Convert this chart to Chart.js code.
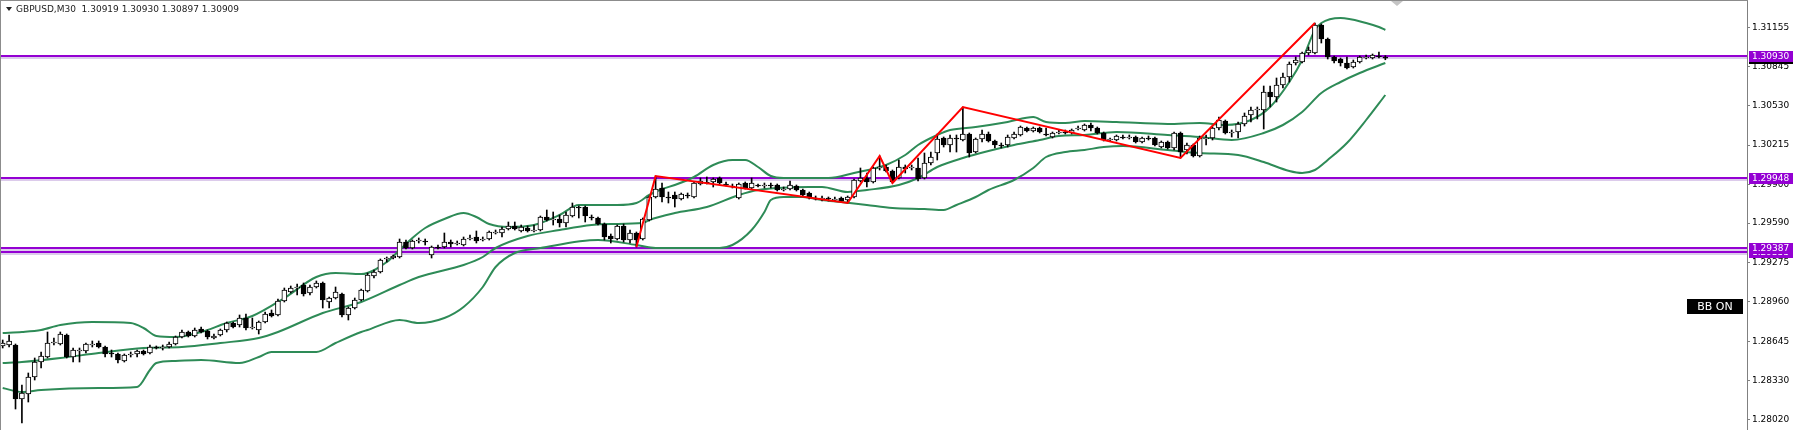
<!DOCTYPE html>
<html>
<head>
<meta charset="utf-8">
<title>GBPUSD M30</title>
<script src="https://cdn.jsdelivr.net/npm/chart.js@4.4.1/dist/chart.umd.min.js"></script>
<style>
  html, body { margin: 0; padding: 0; background: #fff; overflow: hidden; }
  #c { display: block; }
</style>
</head>
<body>
<canvas id="c" width="1797" height="430"></canvas>
<script>
// ---- data (GBPUSD, M30, 217 bars) ----
const symbol = "GBPUSD,M30";

const opens = [
  1.28607,1.28615,1.28615,1.28183,1.28223,1.28359,1.28479,1.28519,1.28631,1.28623,
  1.28695,1.28519,1.28567,1.28567,1.28615,1.28631,1.28599,1.28551,1.28543,1.28487,
  1.28535,1.28543,1.28567,1.28551,1.28599,1.28591,1.28599,1.28623,1.28679,1.28719,
  1.28687,1.28743,1.28727,1.28671,1.28695,1.28735,1.28791,1.28775,1.28831,1.28751,
  1.28735,1.28799,1.28871,1.28855,1.28967,1.29039,1.29071,1.29095,1.29031,1.29079,
  1.29111,1.28959,1.28991,1.29023,1.28855,1.28911,1.28975,1.29047,1.29167,1.29199,
  1.29303,1.29311,1.29319,1.29439,1.29391,1.29447,1.29447,1.29335,1.29399,1.29399,
  1.29439,1.29423,1.29415,1.29463,1.29479,1.29455,1.29463,1.29511,1.29511,1.29543,
  1.29567,1.29527,1.29551,1.29527,1.29535,1.29639,1.29615,1.29623,1.29591,1.29647,
  1.29719,1.29719,1.29639,1.29631,1.29583,1.29487,1.29463,1.29567,1.29455,1.29511,
  1.29463,1.29615,1.29799,1.29871,1.29799,1.29815,1.29783,1.29815,1.29799,1.29903,
  1.29919,1.29919,1.29951,1.29903,1.29887,1.29791,1.29911,1.29871,1.29895,1.29887,
  1.29895,1.29895,1.29855,1.29863,1.29887,1.29855,1.29831,1.29791,1.29783,1.29791,
  1.29775,1.29791,1.29775,1.29799,1.29927,1.29951,1.29919,1.30031,1.30039,1.30007,
  1.29951,1.30039,1.30031,1.30031,1.29951,1.30071,1.30151,1.30271,1.30215,1.30271,
  1.30255,1.30303,1.30159,1.30263,1.30303,1.30247,1.30215,1.30215,1.30271,1.30295,
  1.30351,1.30327,1.30351,1.30303,1.30279,1.30311,1.30319,1.30311,1.30343,1.30335,
  1.30375,1.30351,1.30311,1.30255,1.30255,1.30279,1.30271,1.30279,1.30239,1.30271,
  1.30271,1.30199,1.30239,1.30191,1.30311,1.30175,1.30215,1.30127,1.30263,1.30271,
  1.30351,1.30407,1.30311,1.30319,1.30383,1.30455,1.30495,1.30495,1.30639,1.30599,
  1.30695,1.30759,1.30871,1.30879,1.30951,1.30951,1.31175,1.31063,1.30919,1.30903,
  1.30871,1.30839,1.30879,1.30911,1.30911,1.30927,1.30919
];
const highs = [
  1.28655,1.28695,1.28623,1.28295,1.28391,1.28511,1.28559,1.28719,1.28671,1.28719,
  1.28703,1.28591,1.28591,1.28631,1.28647,1.28647,1.28607,1.28575,1.28551,1.28543,
  1.28559,1.28575,1.28575,1.28615,1.28607,1.28615,1.28639,1.28687,1.28735,1.28727,
  1.28751,1.28759,1.28735,1.28703,1.28743,1.28799,1.28799,1.28855,1.28863,1.28831,
  1.28807,1.28879,1.28895,1.28983,1.29071,1.29087,1.29103,1.29111,1.29095,1.29127,
  1.29119,1.28999,1.29079,1.29031,1.28919,1.28991,1.29063,1.29191,1.29215,1.29303,
  1.29319,1.29335,1.29463,1.29455,1.29455,1.29471,1.29463,1.29407,1.29415,1.29511,
  1.29455,1.29447,1.29479,1.29495,1.29527,1.29479,1.29527,1.29535,1.29559,1.29599,
  1.29599,1.29575,1.29567,1.29575,1.29647,1.29695,1.29679,1.29655,1.29679,1.29751,
  1.29727,1.29727,1.29655,1.29639,1.29591,1.29503,1.29575,1.29583,1.29535,1.29519,
  1.29631,1.29807,1.29967,1.29911,1.29839,1.29839,1.29831,1.29831,1.29919,1.29951,
  1.29959,1.29951,1.29959,1.29919,1.29903,1.29911,1.29919,1.29951,1.29903,1.29911,
  1.29911,1.29903,1.29879,1.29927,1.29895,1.29863,1.29839,1.29807,1.29807,1.29799,
  1.29799,1.29799,1.29807,1.29943,1.30031,1.29991,1.30039,1.30127,1.30055,1.30015,
  1.30095,1.30055,1.30055,1.30111,1.30151,1.30159,1.30303,1.30279,1.30295,1.30295,
  1.30519,1.30311,1.30271,1.30335,1.30319,1.30255,1.30231,1.30295,1.30319,1.30367,
  1.30359,1.30359,1.30359,1.30351,1.30319,1.30335,1.30335,1.30343,1.30367,1.30383,
  1.30391,1.30359,1.30319,1.30271,1.30295,1.30295,1.30295,1.30287,1.30279,1.30287,
  1.30279,1.30247,1.30247,1.30319,1.30319,1.30231,1.30223,1.30287,1.30295,1.30359,
  1.30439,1.30415,1.30335,1.30399,1.30471,1.30519,1.30519,1.30687,1.30687,1.30751,
  1.30791,1.30879,1.30919,1.30959,1.30999,1.31191,1.31183,1.31071,1.30927,1.30911,
  1.30919,1.30895,1.30927,1.30935,1.30943,1.30959,1.30930
];
const lows = [
  1.28591,1.28599,1.28103,1.27991,1.28159,1.28335,1.28431,1.28511,1.28615,1.28615,
  1.28511,1.28479,1.28479,1.28551,1.28599,1.28591,1.28519,1.28519,1.28471,1.28479,
  1.28519,1.28519,1.28535,1.28543,1.28583,1.28575,1.28591,1.28615,1.28671,1.28679,
  1.28679,1.28711,1.28663,1.28663,1.28687,1.28719,1.28751,1.28759,1.28735,1.28743,
  1.28703,1.28791,1.28839,1.28847,1.28959,1.29031,1.29015,1.29007,1.29015,1.29071,
  1.28911,1.28911,1.28983,1.28839,1.28815,1.28903,1.28967,1.29039,1.29151,1.29191,
  1.29279,1.29303,1.29311,1.29383,1.29383,1.29431,1.29415,1.29311,1.29383,1.29391,
  1.29399,1.29415,1.29407,1.29455,1.29431,1.29447,1.29455,1.29503,1.29479,1.29535,
  1.29535,1.29519,1.29519,1.29519,1.29527,1.29607,1.29575,1.29559,1.29559,1.29639,
  1.29631,1.29599,1.29615,1.29575,1.29455,1.29431,1.29455,1.29439,1.29431,1.29399,
  1.29455,1.29607,1.29791,1.29759,1.29751,1.29719,1.29775,1.29791,1.29791,1.29895,
  1.29903,1.29879,1.29903,1.29887,1.29871,1.29783,1.29863,1.29863,1.29879,1.29871,
  1.29871,1.29847,1.29847,1.29855,1.29847,1.29807,1.29783,1.29775,1.29767,1.29767,
  1.29767,1.29759,1.29751,1.29791,1.29919,1.29879,1.29911,1.30015,1.29999,1.29911,
  1.29943,1.29991,1.30015,1.29927,1.29943,1.30055,1.30095,1.30199,1.30159,1.30159,
  1.30247,1.30119,1.30151,1.30239,1.30239,1.30191,1.30191,1.30199,1.30263,1.30287,
  1.30319,1.30319,1.30311,1.30287,1.30271,1.30303,1.30303,1.30303,1.30335,1.30327,
  1.30327,1.30303,1.30247,1.30247,1.30247,1.30263,1.30263,1.30231,1.30231,1.30255,
  1.30207,1.30191,1.30183,1.30175,1.30111,1.30143,1.30119,1.30119,1.30215,1.30255,
  1.30335,1.30303,1.30279,1.30271,1.30367,1.30399,1.30423,1.30343,1.30519,1.30559,
  1.30671,1.30719,1.30855,1.30871,1.30935,1.30943,1.31031,1.30903,1.30871,1.30847,
  1.30823,1.30831,1.30871,1.30903,1.30903,1.30911,1.30897
];
const closes = [
  1.28631,1.28647,1.28183,1.28231,1.28359,1.28479,1.28527,1.28631,1.28639,1.28703,
  1.28519,1.28575,1.28575,1.28623,1.28623,1.28599,1.28543,1.28543,1.28495,1.28535,
  1.28543,1.28567,1.28543,1.28599,1.28591,1.28599,1.28623,1.28679,1.28719,1.28687,
  1.28735,1.28719,1.28679,1.28687,1.28735,1.28791,1.28759,1.28831,1.28751,1.28759,
  1.28799,1.28863,1.28847,1.28967,1.29055,1.29071,1.29079,1.29023,1.29079,1.29111,
  1.28975,1.28991,1.29039,1.28855,1.28911,1.28975,1.29055,1.29175,1.29199,1.29295,
  1.29311,1.29327,1.29439,1.29391,1.29447,1.29455,1.29439,1.29399,1.29391,1.29439,
  1.29423,1.29431,1.29463,1.29471,1.29447,1.29463,1.29519,1.29519,1.29543,1.29567,
  1.29543,1.29559,1.29527,1.29535,1.29639,1.29615,1.29623,1.29591,1.29655,1.29719,
  1.29711,1.29647,1.29631,1.29583,1.29479,1.29463,1.29567,1.29455,1.29511,1.29455,
  1.29623,1.29799,1.29863,1.29799,1.29791,1.29783,1.29823,1.29807,1.29911,1.29927,
  1.29911,1.29943,1.29911,1.29895,1.29879,1.29903,1.29871,1.29911,1.29887,1.29895,
  1.29887,1.29855,1.29863,1.29895,1.29855,1.29815,1.29791,1.29783,1.29791,1.29783,
  1.29783,1.29767,1.29799,1.29935,1.29951,1.29919,1.30031,1.30039,1.30007,1.29919,
  1.30039,1.30023,1.30039,1.29943,1.30071,1.30119,1.30263,1.30215,1.30271,1.30263,
  1.30303,1.30151,1.30263,1.30303,1.30247,1.30215,1.30207,1.30279,1.30303,1.30359,
  1.30327,1.30351,1.30319,1.30295,1.30311,1.30319,1.30311,1.30335,1.30351,1.30375,
  1.30351,1.30311,1.30255,1.30263,1.30287,1.30271,1.30279,1.30239,1.30271,1.30263,
  1.30215,1.30239,1.30191,1.30311,1.30159,1.30215,1.30127,1.30271,1.30271,1.30351,
  1.30415,1.30311,1.30319,1.30383,1.30447,1.30495,1.30503,1.30639,1.30599,1.30695,
  1.30759,1.30863,1.30895,1.30951,1.30975,1.31175,1.31063,1.30919,1.30887,1.30871,
  1.30831,1.30879,1.30919,1.30919,1.30935,1.30919,1.30909
];

// Bollinger bands, [bar index, price]
const bbUpper = [
  [0,1.28711],[3,1.28719],[6,1.28735],[9,1.28775],[14,1.28799],[20,1.28791],[22,1.28751],[24,1.28687],
  [27,1.28679],[31,1.28719],[35,1.28791],[39,1.28847],[44,1.28991],[49,1.29159],[52,1.29191],[56,1.29183],
  [60,1.29279],[62,1.29375],[64,1.29471],[66,1.29551],[69,1.29623],[72,1.29671],[74,1.29639],[76,1.29583],
  [79,1.29559],[83,1.29575],[87,1.29655],[90,1.29735],[96,1.29735],[99,1.29751],[101,1.29815],[103,1.29863],
  [105,1.29895],[108,1.29959],[111,1.30055],[114,1.30095],[116,1.30095],[118,1.30039],[120,1.29967],[122,1.29951],
  [129,1.29951],[133,1.29991],[138,1.30055],[141,1.30135],[143,1.30215],[146,1.30295],[148,1.30335],[152,1.30359],
  [157,1.30399],[161,1.30439],[163,1.30399],[166,1.30391],[169,1.30407],[174,1.30399],[182,1.30383],[187,1.30391],
  [191,1.30375],[195,1.30415],[198,1.30519],[201,1.30719],[203,1.30895],[205,1.31135],[206,1.31191],[209,1.31231],
  [213,1.31191],[215,1.31159],[216,1.31135]
];
const bbMiddle = [
  [0,1.28471],[3,1.28479],[9,1.28511],[15,1.28551],[22,1.28591],[28,1.28599],[34,1.28631],[40,1.28671],
  [43,1.28719],[50,1.28871],[56,1.28959],[62,1.29095],[65,1.29159],[72,1.29255],[75,1.29319],[77,1.29391],
  [82,1.29487],[87,1.29535],[92,1.29575],[95,1.29583],[100,1.29591],[101,1.29615],[105,1.29671],[110,1.29719],
  [115,1.29815],[118,1.29855],[121,1.29871],[126,1.29879],[128,1.29879],[132,1.29839],[135,1.29855],[140,1.29895],
  [143,1.29951],[146,1.30039],[150,1.30111],[154,1.30167],[158,1.30215],[162,1.30255],[165,1.30287],[169,1.30295],
  [174,1.30319],[182,1.30295],[187,1.30279],[192,1.30255],[197,1.30311],[200,1.30375],[203,1.30479],[206,1.30631],
  [209,1.30719],[212,1.30791],[216,1.30871]
];
const bbLower = [
  [0,1.28271],[3,1.28239],[6,1.28255],[15,1.28271],[21,1.28279],[23,1.28415],[24,1.28471],[27,1.28487],
  [31,1.28495],[37,1.28471],[40,1.28519],[42,1.28559],[49,1.28559],[52,1.28631],[56,1.28719],[57,1.28735],
  [62,1.28815],[65,1.28791],[69,1.28831],[72,1.28919],[75,1.29079],[77,1.29239],[80,1.29351],[84,1.29391],
  [93,1.29455],[99,1.29415],[102,1.29391],[108,1.29391],[112,1.29391],[114,1.29415],[117,1.29535],[119,1.29679],
  [120,1.29775],[122,1.29799],[125,1.29799],[128,1.29775],[131,1.29759],[135,1.29735],[139,1.29711],[144,1.29703],
  [147,1.29695],[149,1.29735],[152,1.29799],[154,1.29855],[158,1.29935],[161,1.30031],[163,1.30119],[166,1.30159],
  [169,1.30175],[172,1.30199],[175,1.30207],[182,1.30175],[187,1.30151],[193,1.30135],[197,1.30079],[201,1.30007],
  [203,1.29991],[205,1.30015],[207,1.30095],[210,1.30231],[213,1.30415],[216,1.30615]
];

// zigzag turning points
const zzIdx   = [99, 102, 132, 137, 139, 150, 184, 205];
const zzPrice = [1.29399, 1.29967, 1.29751, 1.30127, 1.29911, 1.30519, 1.30111, 1.31191];

// horizontal lines
const hLines = [1.30930, 1.29948, 1.29387, 1.29355];

const tickLabels = ["1.31155","1.30845","1.30530","1.30215","1.29900","1.29590",
                    "1.29275","1.28960","1.28645","1.28330","1.28020"];

// ---- chart ----
const FONT = '"DejaVu Sans", Tahoma, sans-serif';
const PURPLE = '#9400d3';
const last = closes.length - 1;

const toXY = (arr) => arr.map(p => ({ x: p[0], y: p[1] }));

const mtPlugin = {
  id: 'mt',
  beforeDatasetsDraw(chart) {
    const { ctx, chartArea: a, scales: { y } } = chart;
    ctx.save();
    hLines.forEach(v => {
      const py = Math.round(y.getPixelForValue(v));
      ctx.fillStyle = '#dccbeb';
      ctx.fillRect(a.left, py + 1, a.right - a.left, 2);
      ctx.fillStyle = PURPLE;
      ctx.fillRect(a.left, py - 1, a.right - a.left, 2);
    });
    ctx.restore();
  },
  afterDraw(chart) {
    const { ctx, chartArea: a, scales: { y } } = chart;
    ctx.save();
    // frame
    ctx.fillStyle = '#8c8c8c';
    ctx.fillRect(0, 0, a.right + 1, 1);
    ctx.fillRect(0, 0, 1, chart.height);

    // price labels on the axis
    const label = (v, bg) => {
      const py = Math.round(y.getPixelForValue(v));
      ctx.fillStyle = bg;
      ctx.fillRect(a.right + 2, py - 5, 44, 11);
      ctx.fillStyle = '#fff';
      ctx.font = '9px ' + FONT;
      ctx.textBaseline = 'middle';
      ctx.textAlign = 'left';
      ctx.fillText(v.toFixed(5), a.right + 5, py + 0.5);
    };
    label(closes[last], '#000');
    label(hLines[3], PURPLE);
    label(hLines[2], PURPLE);
    label(hLines[1], PURPLE);
    label(hLines[0], PURPLE);

    // title
    ctx.fillStyle = '#222';
    ctx.beginPath();
    ctx.moveTo(6, 7); ctx.lineTo(12, 7); ctx.lineTo(9, 11); ctx.closePath();
    ctx.fill();
    ctx.font = '9px ' + FONT;
    ctx.textBaseline = 'middle';
    ctx.textAlign = 'left';
    const t = symbol + '  ' + [opens[last], highs[last], lows[last], closes[last]]
      .map(v => v.toFixed(5)).join(' ');
    ctx.fillText(t, 16, 9.5);

    // BB ON badge
    ctx.fillStyle = '#000';
    ctx.fillRect(1687, 299, 56, 15);
    ctx.fillStyle = '#fff';
    ctx.font = '11px ' + FONT;
    ctx.textAlign = 'center';
    ctx.fillText('BB ON', 1715, 307);

    // shift marker
    ctx.fillStyle = '#c4c4c4';
    ctx.beginPath();
    ctx.moveTo(1391, 1); ctx.lineTo(1403, 1); ctx.lineTo(1397, 6); ctx.closePath();
    ctx.fill();
    ctx.restore();
  }
};

new Chart(document.getElementById('c'), {
  type: 'bar',
  data: {
    datasets: [
      {
        type: 'line',
        label: 'zigzag',
        data: zzIdx.map((x, i) => ({ x: x, y: zzPrice[i] })),
        borderColor: '#ff0000',
        borderWidth: 2,
        pointRadius: 0,
        tension: 0,
        order: 0
      },
      {
        label: 'body',
        data: opens.map((o, i) => ({ x: i, y: [o, closes[i]] })),
        backgroundColor: opens.map((o, i) => closes[i] >= o ? '#ffffff' : '#000000'),
        borderColor: '#000',
        borderWidth: 1,
        borderSkipped: false,
        barThickness: 5,
        grouped: false,
        order: 1
      },
      {
        label: 'wick',
        data: lows.map((l, i) => ({ x: i, y: [l, highs[i]] })),
        backgroundColor: '#000',
        borderWidth: 0,
        barThickness: 1,
        grouped: false,
        order: 2
      },
      {
        type: 'line', label: 'upper', data: toXY(bbUpper),
        borderColor: '#2e8b57', borderWidth: 2, pointRadius: 0,
        cubicInterpolationMode: 'monotone', order: 3
      },
      {
        type: 'line', label: 'middle', data: toXY(bbMiddle),
        borderColor: '#2e8b57', borderWidth: 2, pointRadius: 0,
        cubicInterpolationMode: 'monotone', order: 3
      },
      {
        type: 'line', label: 'lower', data: toXY(bbLower),
        borderColor: '#2e8b57', borderWidth: 2, pointRadius: 0,
        cubicInterpolationMode: 'monotone', order: 3
      }
    ]
  },
  options: {
    responsive: false,
    devicePixelRatio: 1,
    animation: false,
    layout: { padding: { left: 1, top: 1, right: 0, bottom: 0 } },
    plugins: { legend: { display: false }, tooltip: { enabled: false } },
    scales: {
      x: {
        type: 'linear',
        display: false,
        offset: false,
        min: -0.266,
        max: 272.5
      },
      y: {
        type: 'linear',
        position: 'right',
        min: 1.27935,
        max: 1.31367,
        beginAtZero: false,
        border: { display: true, color: '#808080', width: 1 },
        grid: { drawOnChartArea: false, drawTicks: true, tickLength: 3, color: '#808080' },
        afterBuildTicks: (s) => { s.ticks = tickLabels.map(t => ({ value: Number(t) })); },
        afterFit: (s) => { s.width = 50; s.paddingTop = 0; s.paddingBottom = 0; },
        ticks: {
          autoSkip: false,
          padding: 2,
          color: '#000',
          font: { family: FONT, size: 9 },
          callback: (v) => v.toFixed(5)
        }
      }
    }
  },
  plugins: [mtPlugin]
});
</script>
</body>
</html>
